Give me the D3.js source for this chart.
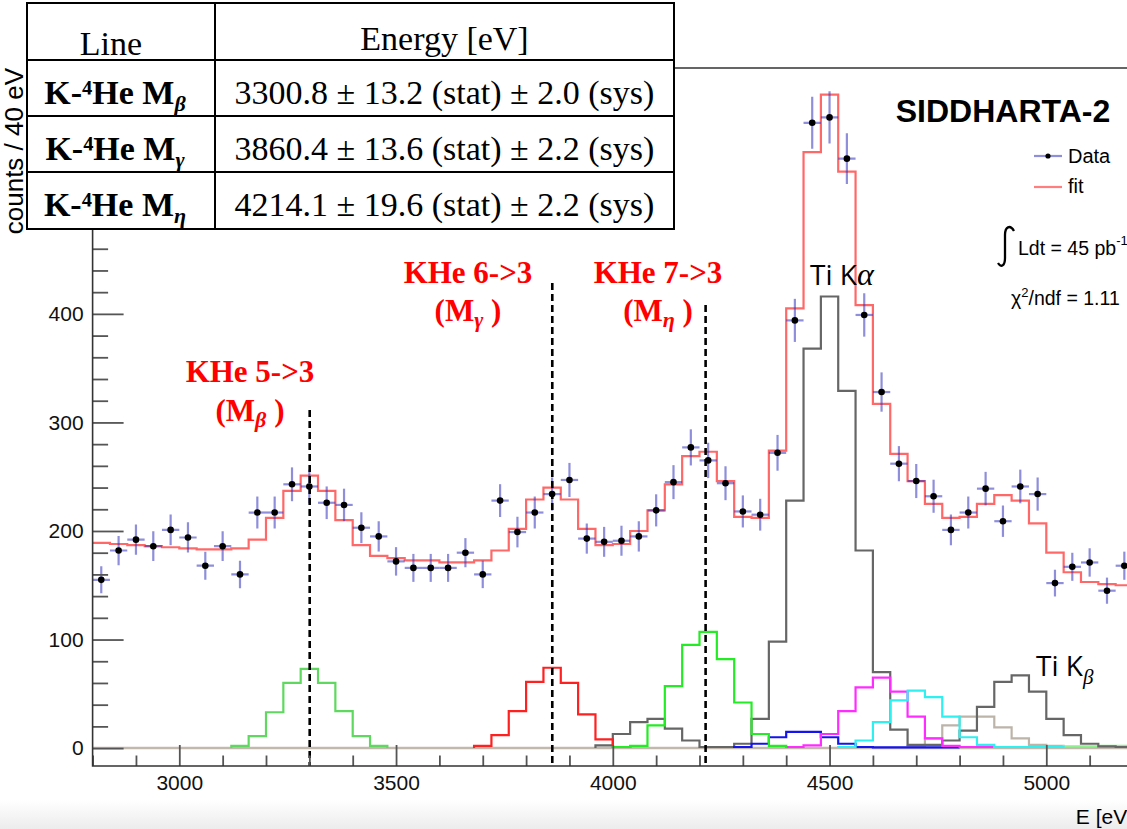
<!DOCTYPE html>
<html>
<head>
<meta charset="utf-8">
<script src="https://cdn.jsdelivr.net/npm/d3@7"></script>
<style>
  body { margin: 0; background: #fff; }
  svg { display: block; }
</style>
</head>
<body>
<svg id="chart" width="1127" height="829"></svg>
<script>
// 40 eV bins
const binEdges = [2800, 2840, 2880, 2920, 2960, 3000, 3040, 3080, 3120, 3160,
  3200, 3240, 3280, 3320, 3360, 3400, 3440, 3480, 3520, 3560,
  3600, 3640, 3680, 3720, 3760, 3800, 3840, 3880, 3920, 3960,
  4000, 4040, 4080, 4120, 4160, 4200, 4240, 4280, 4320, 4360,
  4400, 4440, 4480, 4520, 4560, 4600, 4640, 4680, 4720, 4760,
  4800, 4840, 4880, 4920, 4960, 5000, 5040, 5080, 5120, 5160, 5200];

const dataCounts = [155, 182, 192, 186, 201, 194, 168, 186, 160, 217,
  217, 243, 241, 226, 224, 203, 195, 172, 166, 166,
  166, 180, 160, 228, 199, 217, 234, 247, 193, 190,
  191, 195, 219, 245, 277, 265, 244, 218, 215, 272,
  394, 576, 581, 543, 399, 328, 262, 246, 232, 201,
  217, 239, 209, 241, 234, 152, 167, 171, 145, 168];

const fitCounts = [189, 188, 187, 186, 185, 184, 183, 183, 184, 192,
  212, 237, 251, 237, 210, 187, 177, 175, 173, 173,
  171, 171, 173, 182, 202, 229, 240, 229, 202, 187,
  188, 200, 219, 243, 269, 273, 246, 213, 212, 274,
  405, 549, 602, 531, 408, 317, 271, 246, 225, 212,
  213, 225, 233, 228, 207, 180, 162, 153, 151, 150];

// fit components: first bin edge + counts per bin
const mBetaStart = 3120;
const mBetaCounts = [2, 11, 33, 60, 73, 60, 34, 11, 2];
const mGammaStart = 3680;
const mGammaCounts = [2, 12, 34, 61, 74, 60, 31, 8, 1];
const mEtaStart = 4000;
const mEtaCounts = [1, 2, 21, 57, 95, 107, 82, 42, 13, 2];
const tiStart = 3960;
const tiCounts = [2.5, 13, 24, 27, 18, 7, 1, 1, 4, 27, 98, 228, 368, 416, 329, 182, 70, 17, 3, 3,
  7, 16, 38, 61, 67, 52, 27, 12, 4, 1.5, 1];
const blueStart = 4280;
const blueCounts = [1, 4, 10, 15, 15, 10, 4, 1, 0.6, 0.6, 0.6, 0.6, 0.6];
const magentaStart = 4400;
const magentaCounts = [1, 2.5, 13, 34, 56, 65, 52, 29, 9, 2, 1, 1];
const cyanStart = 4520;
const cyanCounts = [1, 7, 24, 44, 53, 47, 29, 10, 3, 1, 1, 1, 1];
const tanStart = 4680;
const tanCounts = [2, 9, 21, 29, 29, 19, 9, 3, 2, 1, 1, 1, 1];
const lgreenStart = 4840;
const lgreenCounts = [1, 1, 1, 1, 1, 1.5, 1.5, 2, 2, 2.5];

const xMajor = [3000, 3500, 4000, 4500, 5000];
const xMinor = [2800, 2900, 3100, 3200, 3300, 3400, 3600, 3700, 3800, 3900, 4100, 4200, 4300, 4400,
  4600, 4700, 4800, 4900, 5100, 5200];
const yMajor = [0, 100, 200, 300, 400, 500, 600];
const yMinor = [20, 40, 60, 80, 120, 140, 160, 180, 220, 240, 260, 280, 320, 340, 360, 380,
  420, 440, 460, 480, 520, 540, 560, 580, 620];

const lineEnergies = [3300.8, 3860.4, 4214.1];
const lineTops = [410, 283, 305];

const tableSubs = ["β", "γ", "η"];
const tableEnergies = ["3300.8 ± 13.2 (stat) ± 2.0 (sys)",
  "3860.4 ± 13.6 (stat) ± 2.2 (sys)",
  "4214.1 ± 19.6 (stat) ± 2.2 (sys)"];

const svg = d3.select("#chart");
const frame = {left: 92.6, right: 1133, top: 68, bottom: 766};
const x = d3.scaleLinear().domain([2800, 5200]).range([frame.left, frame.right]);
const y = d3.scaleLinear().domain([-16.5, 626.5]).range([frame.bottom, frame.top]);

// faint grey band at the bottom of the picture
const grad = svg.append("defs").append("linearGradient").attr("id", "bot")
  .attr("x1", 0).attr("x2", 0).attr("y1", 0).attr("y2", 1);
grad.append("stop").attr("offset", 0).attr("stop-color", "#fff");
grad.append("stop").attr("offset", 1).attr("stop-color", "#ececec");
svg.append("rect").attr("x", 0).attr("y", 800).attr("width", 1127).attr("height", 29).attr("fill", "url(#bot)");

svg.select("defs").append("clipPath").attr("id", "plot")
  .append("rect").attr("x", frame.left).attr("y", frame.top)
  .attr("width", frame.right - frame.left).attr("height", frame.bottom - frame.top);

const plot = svg.append("g").attr("clip-path", "url(#plot)");
const line = d3.line().x(d => x(d[0])).y(d => y(d[1]));

function histPoints(start, counts, closed) {
  const i0 = binEdges.indexOf(start);
  const pts = [];
  if (closed) pts.push([binEdges[i0], 0]);
  counts.forEach((c, j) => {
    pts.push([binEdges[i0 + j], c]);
    pts.push([binEdges[i0 + j + 1], c]);
  });
  if (closed) pts.push([binEdges[i0 + counts.length], 0]);
  return pts;
}

// zero line
plot.append("path").attr("d", line([[2800, 0], [5200, 0]]))
  .attr("stroke", "#c2b9ae").attr("stroke-width", 2.5).attr("fill", "none");

const components = [
  {start: tanStart, counts: tanCounts, color: "#bdb4a9"},
  {start: lgreenStart, counts: lgreenCounts, color: "#8ef08e"},
  {start: tiStart, counts: tiCounts, color: "#666"},
  {start: blueStart, counts: blueCounts, color: "#1414f0"},
  {start: magentaStart, counts: magentaCounts, color: "#ff2cff"},
  {start: cyanStart, counts: cyanCounts, color: "#2ef0f0"},
  {start: mBetaStart, counts: mBetaCounts, color: "#5fd85f"},
  {start: mGammaStart, counts: mGammaCounts, color: "#ff2020"},
  {start: mEtaStart, counts: mEtaCounts, color: "#24ec24"}
];
components.forEach(c => {
  plot.append("path").attr("d", line(histPoints(c.start, c.counts, true)))
    .attr("stroke", c.color).attr("stroke-width", 2.2).attr("fill", "none");
});

// fit
plot.append("path").attr("d", line(histPoints(2800, fitCounts, false)))
  .attr("stroke", "rgba(255,40,40,0.7)").attr("stroke-width", 2.2).attr("fill", "none");

// data with errors
const pts = plot.append("g");
dataCounts.forEach((v, i) => {
  const lo = binEdges[i], hi = binEdges[i + 1], c = (lo + hi) / 2, e = Math.sqrt(v);
  pts.append("line").attr("x1", x(c)).attr("x2", x(c)).attr("y1", y(v - e)).attr("y2", y(v + e))
    .attr("stroke", "rgba(50,50,190,0.55)").attr("stroke-width", 2.2);
  pts.append("line").attr("x1", x(lo)).attr("x2", x(hi)).attr("y1", y(v)).attr("y2", y(v))
    .attr("stroke", "rgba(50,50,190,0.55)").attr("stroke-width", 2.2);
  pts.append("circle").attr("cx", x(c)).attr("cy", y(v)).attr("r", 3.3).attr("fill", "#000");
});

// line positions
lineEnergies.forEach((e, i) => {
  svg.append("line").attr("x1", x(e)).attr("x2", x(e)).attr("y1", lineTops[i]).attr("y2", frame.bottom)
    .attr("stroke", "#000").attr("stroke-width", 2.6).attr("stroke-dasharray", "7,4");
});

// axes
const axisFont = "'Liberation Sans', Arial, Helvetica, sans-serif";
function styleAxis(g) {
  g.select(".domain").remove();
  g.selectAll(".tick line").attr("stroke", "#555").attr("stroke-width", 1.8);
  g.selectAll("text").attr("font-family", axisFont).attr("font-size", 21).attr("fill", "#111");
}
svg.append("g").attr("transform", `translate(0,${frame.bottom})`)
  .call(d3.axisBottom(x).tickValues(xMajor).tickSize(-21).tickPadding(9).tickFormat(d3.format("d")))
  .call(styleAxis);
svg.append("g").attr("transform", `translate(0,${frame.bottom})`)
  .call(d3.axisBottom(x).tickValues(xMinor).tickSize(-10.5).tickFormat(""))
  .call(styleAxis);
svg.append("g").attr("transform", `translate(${frame.left},0)`)
  .call(d3.axisLeft(y).tickValues(yMajor).tickSize(-31).tickPadding(9).tickFormat(d3.format("d")))
  .call(styleAxis);
svg.append("g").attr("transform", `translate(${frame.left},0)`)
  .call(d3.axisLeft(y).tickValues(yMinor).tickSize(-15.5).tickFormat(""))
  .call(styleAxis);

// frame
svg.append("path")
  .attr("d", `M${frame.right},${frame.top}H${frame.left}V${frame.bottom}H${frame.right}`)
  .attr("stroke", "#333").attr("stroke-width", 1.6).attr("fill", "none");

svg.append("text").attr("x", frame.right).attr("y", 824).attr("text-anchor", "end")
  .attr("font-family", axisFont).attr("font-size", 21).text("E [eV]");
svg.append("text").attr("transform", `translate(23,${frame.top}) rotate(-90)`).attr("text-anchor", "end")
  .attr("font-family", axisFont).attr("font-size", 26).text("counts / 40 eV");

// red line labels
const serif = "'Liberation Serif', 'Times New Roman', serif";
function redLabel(cx, y1, y2, txt, sub) {
  const g = svg.append("g").attr("fill", "#ff0000").attr("font-family", serif)
    .attr("font-weight", "bold").attr("font-size", 31).attr("text-anchor", "middle");
  g.append("text").attr("x", cx).attr("y", y1).text(txt);
  const t = g.append("text").attr("x", cx).attr("y", y2);
  t.append("tspan").text("(M");
  t.append("tspan").attr("font-style", "italic").attr("font-size", 22).attr("dy", 6).text(sub);
  t.append("tspan").attr("dy", -6).text(" )");
}
redLabel(250, 382, 421, "KHe 5->3", "β");
redLabel(468, 283, 321, "KHe 6->3", "γ");
redLabel(658, 283, 321, "KHe 7->3", "η");

// Ti labels
const sans = "'Open Sans', 'Liberation Sans', sans-serif";
const tka = svg.append("text").attr("x", 810).attr("y", 285).attr("font-family", sans).attr("font-size", 28);
tka.append("tspan").text("Ti K");
tka.append("tspan").attr("font-family", serif).attr("font-style", "italic").attr("font-size", 32).text("α");
const tkb = svg.append("text").attr("x", 1036).attr("y", 676).attr("font-family", sans).attr("font-size", 28);
tkb.append("tspan").text("Ti K");
tkb.append("tspan").attr("font-family", serif).attr("font-style", "italic").attr("font-size", 21).attr("dy", 8).text("β");

// legend block
svg.append("text").attr("x", 1003).attr("y", 122).attr("text-anchor", "middle")
  .attr("font-family", axisFont).attr("font-weight", "bold").attr("font-size", 32).text("SIDDHARTA-2");
svg.append("line").attr("x1", 1034).attr("x2", 1062).attr("y1", 156).attr("y2", 156)
  .attr("stroke", "rgba(50,50,190,0.55)").attr("stroke-width", 2.2);
svg.append("circle").attr("cx", 1048).attr("cy", 156).attr("r", 2.6).attr("fill", "#000");
svg.append("text").attr("x", 1068).attr("y", 163).attr("font-family", axisFont).attr("font-size", 20).text("Data");
svg.append("line").attr("x1", 1034).attr("x2", 1062).attr("y1", 187).attr("y2", 187)
  .attr("stroke", "rgba(255,40,40,0.6)").attr("stroke-width", 2.2);
svg.append("text").attr("x", 1068).attr("y", 193).attr("font-family", axisFont).attr("font-size", 20).text("fit");
svg.append("path").attr("d", "M1014,231 C1010,224 1005,227 1005,235 L1005,258 C1005,266 1001,268 998,263")
  .attr("stroke", "#000").attr("stroke-width", 2.3).attr("fill", "none");
const ldt = svg.append("text").attr("x", 1018).attr("y", 255).attr("font-family", axisFont).attr("font-size", 19.5);
ldt.append("tspan").text("Ldt = 45 pb");
ldt.append("tspan").attr("font-size", 13).attr("dy", -10).text("-1");
const chi = svg.append("text").attr("x", 1011).attr("y", 305).attr("font-family", axisFont).attr("font-size", 19.5);
chi.append("tspan").text("χ");
chi.append("tspan").attr("font-size", 13).attr("dy", -8).text("2");
chi.append("tspan").attr("dy", 8).text("/ndf = 1.11");

// results table
const tab = {left: 27, right: 674, mid: 215, rows: [3, 60, 116, 172, 229]};
const tg = svg.append("g");
tg.append("rect").attr("x", tab.left).attr("y", tab.rows[0]).attr("width", tab.right - tab.left)
  .attr("height", tab.rows[4] - tab.rows[0]).attr("fill", "#fff").attr("stroke", "#000").attr("stroke-width", 2);
tab.rows.slice(1, 4).forEach(r => {
  tg.append("line").attr("x1", tab.left).attr("x2", tab.right).attr("y1", r).attr("y2", r)
    .attr("stroke", "#000").attr("stroke-width", 2);
});
tg.append("line").attr("x1", tab.mid).attr("x2", tab.mid).attr("y1", tab.rows[0]).attr("y2", tab.rows[4])
  .attr("stroke", "#000").attr("stroke-width", 2);
const c1 = (tab.left + tab.mid) / 2 - 6, c2 = (tab.mid + tab.right) / 2;
tg.append("text").attr("x", c1 - 4).attr("y", 55).attr("text-anchor", "middle")
  .attr("font-family", serif).attr("font-size", 34).text("Line");
tg.append("text").attr("x", c2).attr("y", 50).attr("text-anchor", "middle")
  .attr("font-family", serif).attr("font-size", 34).text("Energy [eV]");
tableSubs.forEach((s, i) => {
  const base = tab.rows[i + 1] + 44;
  const t = tg.append("text").attr("x", c1).attr("y", base).attr("text-anchor", "middle")
    .attr("font-family", serif).attr("font-weight", "bold").attr("font-size", 34);
  t.append("tspan").text("K-⁴He M");
  t.append("tspan").attr("font-style", "italic").attr("font-size", 22).attr("dy", 7).text(s);
  tg.append("text").attr("x", c2).attr("y", base).attr("text-anchor", "middle")
    .attr("font-family", serif).attr("font-size", 34).text(tableEnergies[i]);
});
</script>
</body>
</html>
